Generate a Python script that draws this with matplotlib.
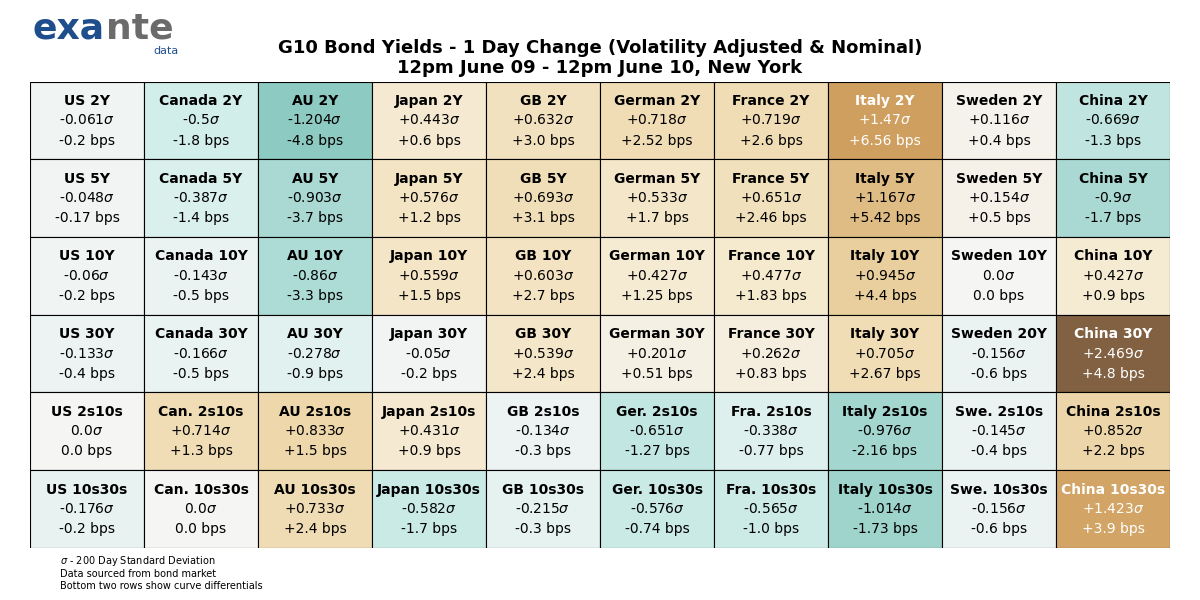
import numpy as np
import matplotlib.pyplot as plt
from matplotlib.colors import LinearSegmentedColormap, Normalize


def main():
    # columns of the table: name, labels per row, sigma values, bps values
    cols = {
        "US": (["US 2Y", "US 5Y", "US 10Y", "US 30Y", "US 2s10s", "US 10s30s"],
               [-0.061, -0.048, -0.06, -0.133, 0.0, -0.176],
               [-0.2, -0.17, -0.2, -0.4, 0.0, -0.2]),
        "Canada": (["Canada 2Y", "Canada 5Y", "Canada 10Y", "Canada 30Y", "Can. 2s10s", "Can. 10s30s"],
                   [-0.5, -0.387, -0.143, -0.166, 0.714, 0.0],
                   [-1.8, -1.4, -0.5, -0.5, 1.3, 0.0]),
        "AU": (["AU 2Y", "AU 5Y", "AU 10Y", "AU 30Y", "AU 2s10s", "AU 10s30s"],
               [-1.204, -0.903, -0.86, -0.278, 0.833, 0.733],
               [-4.8, -3.7, -3.3, -0.9, 1.5, 2.4]),
        "Japan": (["Japan 2Y", "Japan 5Y", "Japan 10Y", "Japan 30Y", "Japan 2s10s", "Japan 10s30s"],
                  [0.443, 0.576, 0.559, -0.05, 0.431, -0.582],
                  [0.6, 1.2, 1.5, -0.2, 0.9, -1.7]),
        "GB": (["GB 2Y", "GB 5Y", "GB 10Y", "GB 30Y", "GB 2s10s", "GB 10s30s"],
               [0.632, 0.693, 0.603, 0.539, -0.134, -0.215],
               [3.0, 3.1, 2.7, 2.4, -0.3, -0.3]),
        "German": (["German 2Y", "German 5Y", "German 10Y", "German 30Y", "Ger. 2s10s", "Ger. 10s30s"],
                   [0.718, 0.533, 0.427, 0.201, -0.651, -0.576],
                   [2.52, 1.7, 1.25, 0.51, -1.27, -0.74]),
        "France": (["France 2Y", "France 5Y", "France 10Y", "France 30Y", "Fra. 2s10s", "Fra. 10s30s"],
                   [0.719, 0.651, 0.477, 0.262, -0.338, -0.565],
                   [2.6, 2.46, 1.83, 0.83, -0.77, -1.0]),
        "Italy": (["Italy 2Y", "Italy 5Y", "Italy 10Y", "Italy 30Y", "Italy 2s10s", "Italy 10s30s"],
                  [1.47, 1.167, 0.945, 0.705, -0.976, -1.014],
                  [6.56, 5.42, 4.4, 2.67, -2.16, -1.73]),
        "Sweden": (["Sweden 2Y", "Sweden 5Y", "Sweden 10Y", "Sweden 20Y", "Swe. 2s10s", "Swe. 10s30s"],
                   [0.116, 0.154, 0.0, -0.156, -0.145, -0.156],
                   [0.4, 0.5, 0.0, -0.6, -0.4, -0.6]),
        "China": (["China 2Y", "China 5Y", "China 10Y", "China 30Y", "China 2s10s", "China 10s30s"],
                  [-0.669, -0.9, 0.427, 2.469, 0.852, 1.423],
                  [-1.3, -1.7, 0.9, 4.8, 2.2, 3.9]),
    }

    # muted teal -> grey-white -> tan -> brown
    stops = [(-2.5, "#3d8b84"), (-1.2, "#8ccac2"), (-0.5, "#d2eeea"), (0.0, "#f5f5f5"),
             (0.5, "#f5e8cc"), (0.9, "#ebd4a4"), (1.47, "#d0a060"), (2.5, "#7f6040")]
    lo, hi = stops[0][0], stops[-1][0]
    cmap = LinearSegmentedColormap.from_list(
        "exante", [((v - lo) / (hi - lo), c) for v, c in stops])
    norm = Normalize(vmin=lo, vmax=hi)

    def fmt(x):
        return "0.0" if x == 0 else ("+" if x > 0 else "") + str(float(x))

    fig = plt.figure(figsize=(12, 6), dpi=100)
    ax = fig.add_axes([0.025, 0.087, 0.95, 0.777])
    ax.set_xlim(0, 10)
    ax.set_ylim(6, 0)
    ax.axis("off")

    for i, (key, (labels, sig, bps)) in enumerate(cols.items()):
        for j in range(6):
            v = sig[j]
            ax.add_patch(plt.Rectangle((i, j), 1, 1, facecolor=cmap(norm(v)),
                                       edgecolor="black", linewidth=0.8))
            tc = "white" if abs(v) > 1.4 else "black"
            ax.text(i + 0.5, j + 0.25, labels[j], ha="center", va="center",
                    fontsize=10, fontweight="bold", color=tc)
            ax.text(i + 0.5, j + 0.5, fmt(v) + r"$\sigma$", ha="center", va="center",
                    fontsize=10, color=tc)
            ax.text(i + 0.5, j + 0.76, fmt(bps[j]) + " bps", ha="center", va="center",
                    fontsize=10, color=tc)

    fig.text(0.5, 0.903, "G10 Bond Yields - 1 Day Change (Volatility Adjusted & Nominal)\n"
             "12pm June 09 - 12pm June 10, New York", ha="center", va="center",
             fontsize=13, fontweight="bold", linespacing=1.1)
    fig.text(0.027, 0.952, "exa", fontsize=26, fontweight="bold", color="#1f4e8c",
             va="center")
    fig.text(0.0885, 0.952, "nte", fontsize=26, fontweight="bold", color="#6b6b6b",
             va="center")
    fig.text(0.128, 0.915, "data", fontsize=8, color="#1f4e8c", va="center")
    fig.text(0.05, 0.015, "$\\sigma$ - 200 Day Standard Deviation\nData sourced from bond market\n"
             "Bottom two rows show curve differentials", fontsize=7, va="bottom")

    fig.savefig("out.png", dpi=100)


main()
